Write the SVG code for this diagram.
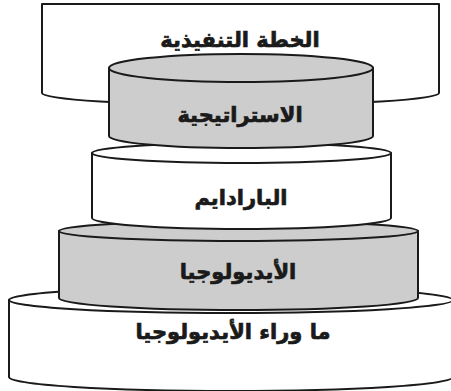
<svg xmlns="http://www.w3.org/2000/svg" width="451" height="391" viewBox="0 0 451 391">
<style>
.s{stroke:#1a1a1a;stroke-width:2;stroke-linejoin:round}
.w{fill:#ffffff}
.g{fill:#cdcdcd}
.t{font-family:"DejaVu Sans",sans-serif;font-weight:bold;font-size:21px;fill:#1a1a1a;stroke:#1a1a1a;stroke-width:0.7;text-anchor:middle}
</style>
<rect width="451" height="391" fill="#ffffff"/>
<g id="meta-ideology">
<path class="s w" d="M9,300 L9,377 A222 14 0 0 0 453,377 L453,300 Z"/>
<ellipse class="s w" cx="231" cy="300" rx="222" ry="13"/>
<text class="t" x="233" y="339" direction="rtl">ما وراء الأيديولوجيا</text>
</g>
<g id="ideology">
<path class="s g" d="M59,231 L59,298 A179.5 12 0 0 0 418,298 L418,231 Z"/>
<ellipse class="s g" cx="238.5" cy="231" rx="179.5" ry="10"/>
<text class="t" x="238" y="279" direction="rtl">الأيديولوجيا</text>
</g>
<g id="paradigm">
<path class="s w" d="M92,153 L92,218 A149.5 11 0 0 0 391,218 L391,153 Z"/>
<ellipse class="s w" cx="241.5" cy="153" rx="149.5" ry="10"/>
<text class="t" x="241" y="205" direction="rtl">البارادايم</text>
</g>
<g id="executive-plan">
<path class="s w" d="M42,4 L439,4 L439,93 A198.5 12 0 0 1 42,93 Z"/>
<text class="t" x="240" y="47" direction="rtl">الخطة التنفيذية</text>
</g>
<g id="strategy">
<path class="s g" d="M109,68 L109,136 A132 12 0 0 0 373,136 L373,68 Z"/>
<ellipse class="s g" cx="241" cy="68" rx="132" ry="14"/>
<text class="t" x="240" y="122" direction="rtl">الاستراتيجية</text>
</g>
</svg>
